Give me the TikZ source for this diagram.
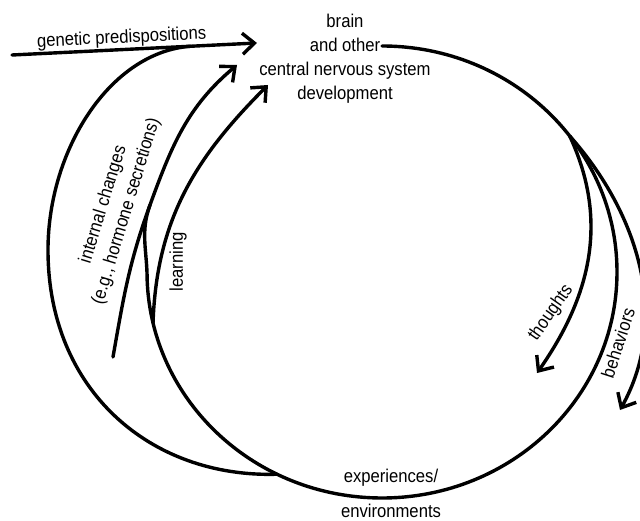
\documentclass[tikz,border=0pt]{standalone}
\usepackage{fontspec}
\setmainfont[FakeStretch=0.9]{Liberation Sans}
\usetikzlibrary{arrows.meta,calc}

\begin{document}
\begin{tikzpicture} [
       x=1pt, y=1pt,
       texte/.style={font=\fontsize{18.5}{24}\selectfont, align=center, inner sep=1pt},
       line/.style={draw, line width=3.4pt, line cap=round},
       arrow/.style={line, -{Straight Barb[length=12pt,width=21pt,line width=3.4pt]}},
       ]
       \useasboundingbox (0,0) rectangle (640,-521);
       \clip (0,0) rectangle (640,-521);
       \coordinate (ctr) at (382,-272);
       \coordinate (ctop) at ($(ctr)+(90:235 and 226)$);
       \coordinate (fork) at ($(ctr)+(37:235 and 226)$);
       \coordinate (lfork) at ($(ctr)+(-167:235 and 226)$);
       \coordinate (ljoin) at ($(ctr)+(-116.5:235 and 226)$);
       \coordinate (gstart) at (12,-55);
       \coordinate (gtip) at (257,-43);
       \coordinate (gmrg) at ($(gstart)!0.73!(gtip)$);
       \coordinate (itail) at (113,-357);
       \coordinate (imrg) at (150,-205);
       \coordinate (itip) at (237,-65);
       \coordinate (ltip) at (268,-85);
       \coordinate (lleft) at (48,-250);
       \coordinate (ttip) at (537,-373);
       \coordinate (btip) at (620,-410);

       \node (cns) [texte] at (345,-59) {brain\\and other\\central nervous system\\development};
       \node (env) [texte] at (391,-493) {experiences/\\[11pt]environments};
       \node (intl) [texte, rotate=73] at (115,-208) {internal changes\\(e.g., hormone secretions)};
       \node (lrn) [texte, rotate=90] at (178,-262) {learning};
       \node (tht) [texte, rotate=55] at (551,-313) {thoughts};
       \node (beh) [texte, rotate=72] at (618,-343) {behaviors};

       \draw[arrow] (gstart) -- node[texte, above, sloped, pos=0.45] (gen) {genetic predispositions} (gtip);
       \draw[line] (ctop) arc[start angle=90, end angle=-178, x radius=235, y radius=226]
              to[out=90, in=250] (imrg);
       \draw[arrow] (itail) to[out=80, in=250] (imrg) to[out=70, in=220] (itip);
       \draw[arrow] (lfork) to[out=88, in=225] (ltip);
       \draw[line] (ljoin) .. controls (150,-478) and (48,-390) .. (lleft)
              .. controls (48,-150) and (110,-52) .. (gmrg);
       \draw[arrow] (fork) to[out=-65, in=55] (ttip);
       \draw[arrow] (fork) .. controls (640,-215) and (670,-320) .. (btip);
\end{tikzpicture}
\end{document}
